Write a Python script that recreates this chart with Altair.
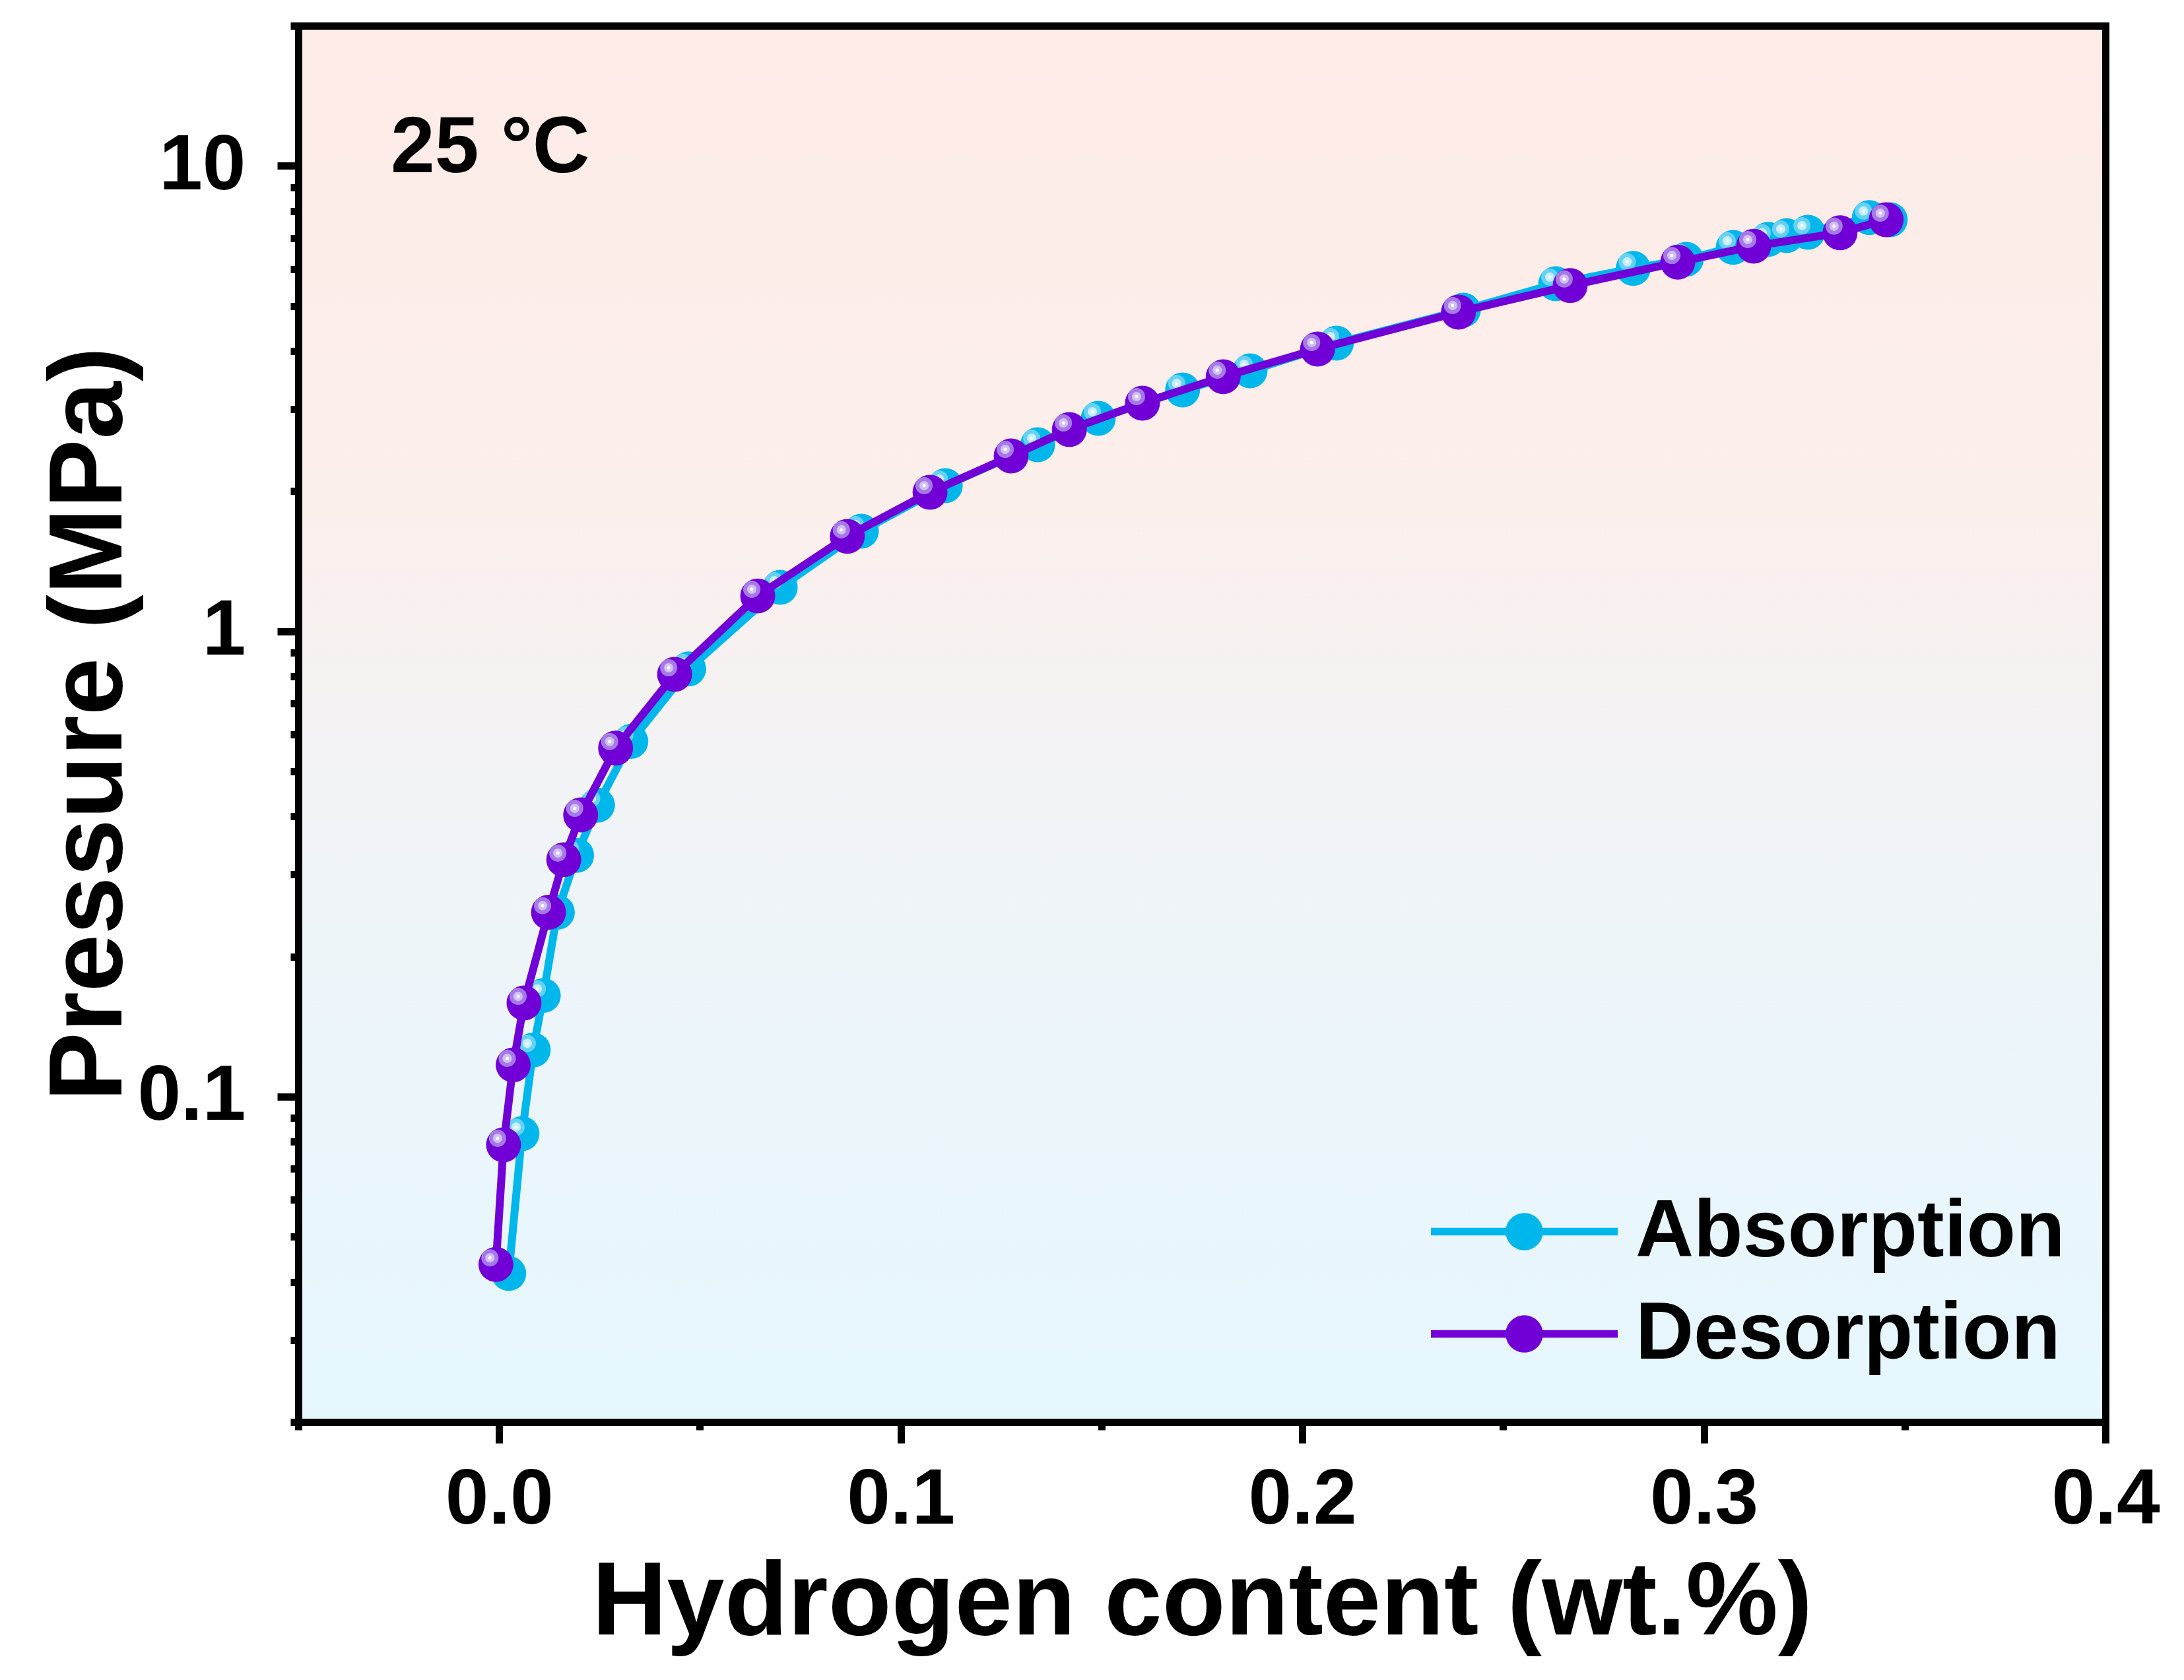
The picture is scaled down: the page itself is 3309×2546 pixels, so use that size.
import altair as alt
import pandas as pd

# ---------------- data ----------------
abs_x = [0.0024, 0.0057, 0.0085, 0.0110, 0.0145, 0.0193, 0.0245, 0.0328, 0.0472,
         0.0700, 0.0902, 0.1111, 0.1341, 0.1492, 0.1702, 0.1870, 0.2085, 0.2401,
         0.2631, 0.2824, 0.2956, 0.3073, 0.3160, 0.3206, 0.3259, 0.3412, 0.3464]
abs_p = [0.0417, 0.0833, 0.126, 0.165, 0.249, 0.330, 0.423, 0.580, 0.830,
         1.243, 1.641, 2.055, 2.516, 2.867, 3.300, 3.627, 4.160, 4.90,
         5.58, 6.02, 6.30, 6.68, 6.95, 7.08, 7.20, 7.74, 7.66]

des_x = [-0.0008, 0.0011, 0.0035, 0.0062, 0.0123, 0.0161, 0.0203, 0.0290, 0.0437,
         0.0644, 0.0867, 0.1073, 0.1275, 0.1420, 0.1602, 0.1803, 0.2038, 0.2389,
         0.2667, 0.2935, 0.3124, 0.3339, 0.3454]
des_p = [0.0436, 0.0788, 0.117, 0.159, 0.249, 0.323, 0.403, 0.561, 0.808,
         1.191, 1.599, 1.989, 2.380, 2.713, 3.091, 3.523, 4.040, 4.85,
         5.53, 6.21, 6.72, 7.18, 7.66]

series_names = ["Absorption", "Desorption"]
series_colors = ["#00b7ec", "#7000d6"]
ring_colors = ["#66d2f3", "#a57ae6"]
inner_colors = ["#c4eefb", "#d4bff4"]

x_major = [0.0, 0.1, 0.2, 0.3, 0.4]
x_minor = [-0.05, 0.05, 0.15, 0.25, 0.35]
y_major = [0.1, 1, 10]
y_minor = [0.02, 0.03, 0.04, 0.05, 0.06, 0.07, 0.08, 0.09,
           0.2, 0.3, 0.4, 0.5, 0.6, 0.7, 0.8, 0.9,
           2, 3, 4, 5, 6, 7, 8, 9, 20]

note_text = ["25 °C"]
note_x = [-0.027]
note_p = [9.69]

x_title = "Hydrogen content (wt.%)"
y_title = "Pressure (MPa)"

# ---------------- layout constants ----------------
W, H = 2738, 2116
FONT = "Liberation Sans"

df_abs = pd.DataFrame({"x": abs_x, "p": abs_p, "series": series_names[0]})
df_des = pd.DataFrame({"x": des_x, "p": des_p, "series": series_names[1]})
df_note = pd.DataFrame({"x": note_x, "p": note_p, "t": note_text})

xscale = alt.Scale(domain=[-0.05, 0.4], nice=False, zero=False)
yscale = alt.Scale(type="log", domain=[0.02, 20], nice=False)
cscale = alt.Scale(domain=series_names, range=series_colors)

# background gradient
bg = alt.Chart(pd.DataFrame({"d": [0]})).mark_rect(
    fill={
        "gradient": "linear", "x1": 0, "y1": 0, "x2": 0, "y2": 1,
        "stops": [
            {"offset": 0.0, "color": "#fdebe6"},
            {"offset": 0.35, "color": "#fbefec"},
            {"offset": 0.6, "color": "#eff4f8"},
            {"offset": 1.0, "color": "#e5f7fd"},
        ],
    }
).encode(x=alt.value(0), x2=alt.value(W), y=alt.value(0), y2=alt.value(H))

# minor tick axes
minor = alt.Chart(df_abs).mark_point(opacity=0).encode(
    x=alt.X("x:Q", scale=xscale,
            axis=alt.Axis(orient="bottom", values=x_minor, labels=False, tickSize=12,
                          title=None, zindex=2)),
    y=alt.Y("p:Q", scale=yscale,
            axis=alt.Axis(orient="left", values=y_minor, labels=False, tickSize=12,
                          title=None, zindex=2)),
)

# top / right frame
frame = alt.Chart(df_abs).mark_point(opacity=0).encode(
    x=alt.X("x:Q", scale=xscale,
            axis=alt.Axis(orient="top", ticks=False, labels=False, title=None, zindex=2)),
    y=alt.Y("p:Q", scale=yscale,
            axis=alt.Axis(orient="right", ticks=False, labels=False, title=None, zindex=2)),
)

def series_layers(df, i, with_axes):
    if with_axes:
        xenc = alt.X("x:Q", scale=xscale,
                     axis=alt.Axis(orient="bottom", values=x_major, format=".1f",
                                   tickSize=32, labelPadding=28, labelFlush=False,
                                   title=x_title, titlePadding=20, zindex=2))
        yenc = alt.Y("p:Q", scale=yscale,
                     axis=alt.Axis(orient="left", values=y_major, format="~g",
                                   tickSize=32, labelPadding=48, labelFlush=False,
                                   title=y_title, titlePadding=36, zindex=2))
    else:
        xenc = alt.X("x:Q", scale=xscale, axis=None)
        yenc = alt.Y("p:Q", scale=yscale, axis=None)

    line = alt.Chart(df).mark_line(color=series_colors[i], strokeWidth=12).encode(
        x=xenc, y=yenc, order=alt.Order("x:Q"))
    xa = alt.X("x:Q", scale=xscale, axis=None)
    ya = alt.Y("p:Q", scale=yscale, axis=None)
    if i == 0:
        col = alt.Color("series:N", scale=cscale, legend=alt.Legend(
            title=None, orient="none", legendX=1716, legendY=1750,
            symbolType="M-1,-0.04L1,-0.04L1,0.04L-1,0.04Z M0.2,0A0.2,0.2 0 1,1 -0.2,0A0.2,0.2 0 1,1 0.2,0Z",
            symbolSize=80089, symbolStrokeWidth=0, symbolOffset=0,
            labelFont=FONT, labelFontSize=122, labelFontWeight="bold", labelColor="black",
            labelOffset=27, labelLimit=0, padding=0, rowPadding=0, clipHeight=155))
        pts = alt.Chart(df).mark_point(filled=True, opacity=1, size=2800).encode(
            x=xa, y=ya, color=col)
    else:
        pts = alt.Chart(df).mark_point(filled=True, opacity=1, size=2800,
                                       color=series_colors[i]).encode(x=xa, y=ya)
    hl1 = alt.Chart(df).mark_point(filled=True, opacity=1, size=680, color=ring_colors[i],
                                   xOffset=-9, yOffset=-10).encode(x=xa, y=ya)
    hl2 = alt.Chart(df).mark_point(filled=True, opacity=1, size=200, color=inner_colors[i],
                                   xOffset=-9, yOffset=-10).encode(x=xa, y=ya)
    hl3 = alt.Chart(df).mark_point(filled=True, opacity=1, size=25, color="white",
                                   xOffset=-9, yOffset=-10).encode(x=xa, y=ya)
    return [line, pts, hl1, hl2, hl3]

note = alt.Chart(df_note).mark_text(
    font=FONT, fontSize=120, fontWeight="bold", color="black",
    align="left", baseline="alphabetic"
).encode(
    x=alt.X("x:Q", scale=xscale, axis=None),
    y=alt.Y("p:Q", scale=yscale, axis=None),
    text="t:N",
)

layers = [bg, minor, frame] + series_layers(df_abs, 0, True) + series_layers(df_des, 1, False) + [note]

chart = alt.layer(*layers).resolve_axis(
    x="independent", y="independent"
).properties(
    width=W, height=H,
    autosize=alt.AutoSizeParams(type="none"),
    padding={"left": 444, "top": 31, "right": 111, "bottom": 383},
    background="white",
).configure_view(
    strokeWidth=0
).configure_axis(
    domainColor="black", domainWidth=11, domainCap="square",
    tickColor="black", tickWidth=11, grid=False,
    labelFont=FONT, labelFontWeight="bold", labelFontSize=118, labelColor="black",
    titleFont=FONT, titleFontWeight="bold", titleFontSize=157, titleColor="black",
)

chart.save("out.html", embed_options={"renderer": "svg", "actions": False})
